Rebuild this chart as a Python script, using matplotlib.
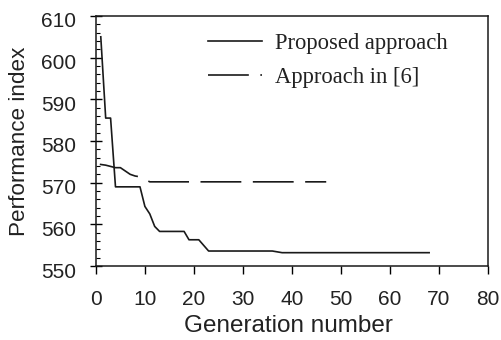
import matplotlib
matplotlib.use("Agg")
import matplotlib.pyplot as plt
from matplotlib.ticker import MultipleLocator
import matplotlib.transforms as mtransforms

# Proposed approach
prop_x = [1, 2, 3, 4, 9, 10, 11, 12, 13, 18, 19, 21, 23, 36, 38, 68]
prop_y = [605, 585.5, 585.5, 569, 569, 564.3, 562.5, 559.5, 558.3, 558.3, 556.3, 556.3, 553.6, 553.6, 553.2, 553.2]

# Approach in [6]
ref_x = [0.8, 2, 4, 5, 6, 7, 8, 9, 11, 47]
ref_y = [574.4, 574.2, 573.6, 573.6, 572.8, 572.0, 571.6, 571.4, 570.2, 570.2]

labels = ["Proposed approach", "Approach in [6]"]

fig = plt.figure(figsize=(5.02, 3.40), dpi=100)
ax = fig.add_axes([0.191, 0.2176, 0.781, 0.7354])

c = "#1a1a1a"
tc = "#222222"
ax.plot(prop_x, prop_y, color=c, lw=1.2, label=labels[0])
ax.plot(ref_x, ref_y, color=c, lw=1.2, dashes=(24.5, 6.9), label=labels[1])

ax.set_xlim(0, 80)
ax.set_ylim(550, 610)
ax.xaxis.set_major_locator(MultipleLocator(10))
ax.yaxis.set_major_locator(MultipleLocator(10))
ax.yaxis.set_minor_locator(MultipleLocator(2))

tick_font = "Liberation Sans"
ax.tick_params(axis="y", which="major", direction="inout", length=9, width=1, labelsize=15, pad=10)
ax.tick_params(axis="y", which="minor", direction="in", length=3, width=0.8)
ax.tick_params(axis="x", which="major", direction="out", length=6, width=1, labelsize=15, pad=11)

offset = mtransforms.ScaledTranslation(0, -4 / 100, fig.dpi_scale_trans)
for lab in ax.get_yticklabels():
    lab.set_transform(lab.get_transform() + offset)
for lab in ax.get_xticklabels() + ax.get_yticklabels():
    lab.set_fontfamily(tick_font)
    lab.set_color(tc)

for s in ax.spines.values():
    s.set_linewidth(1.1)
    s.set_color(c)

ax.set_xlabel("Generation number", fontsize=17.5, family=tick_font, color=tc)
ax.set_ylabel("Performance index", fontsize=16.2, family=tick_font, color=tc)
ax.xaxis.set_label_coords(0.49, -0.197)
ax.yaxis.set_label_coords(-0.168, 0.50)

leg = ax.legend(loc="upper left", frameon=False, prop={"family": "Liberation Serif", "size": 16.3},
                handlelength=2.4, handletextpad=0.57, labelspacing=0.6,
                borderpad=0, borderaxespad=0,
                bbox_to_anchor=(0.2857, 0.933))
for t in leg.get_texts():
    t.set_color(tc)

fig.savefig("out.png", dpi=100)
